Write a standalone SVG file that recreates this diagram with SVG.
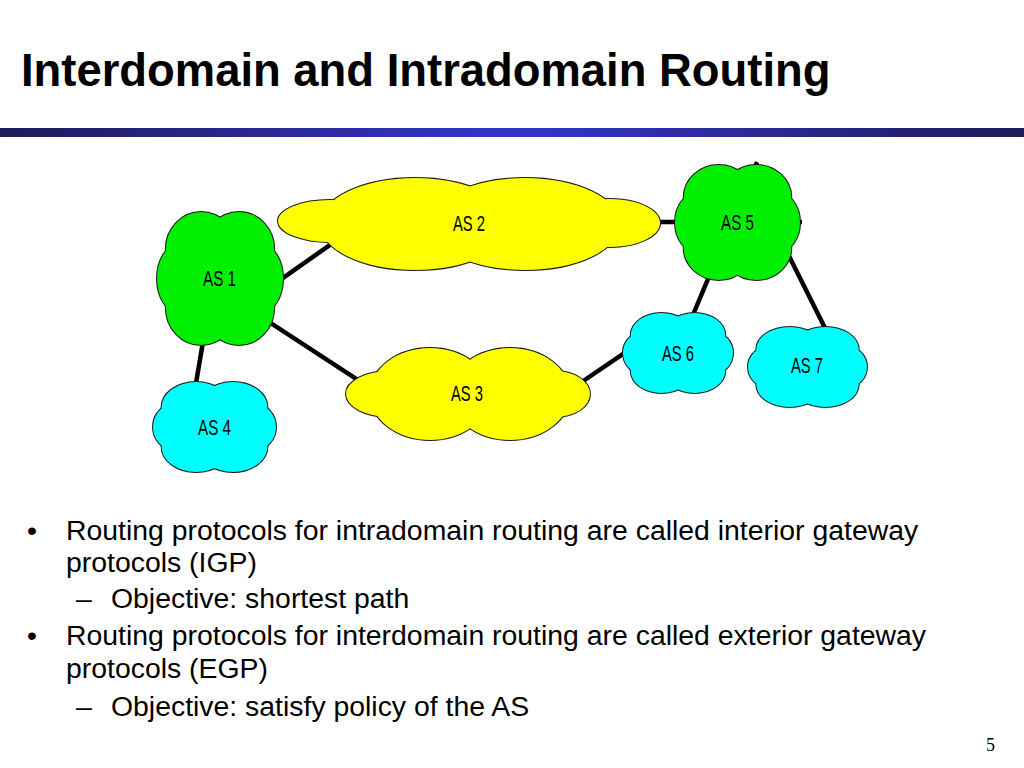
<svg xmlns="http://www.w3.org/2000/svg" xmlns:xlink="http://www.w3.org/1999/xlink" width="1024" height="768" viewBox="0 0 1024 768">
<style>
.title{font-family:"Liberation Sans",Arial,sans-serif;font-weight:bold;font-size:45.4px;fill:#000}
.body{font-family:"Liberation Sans",Arial,sans-serif;font-size:28.4px;fill:#000}
.lbl{font-family:"Liberation Sans",Arial,sans-serif;font-size:22px;fill:#000;text-anchor:middle}
.pg{font-family:"Liberation Serif","Times New Roman",serif;font-size:18px;fill:#000}
.link{stroke:#000;stroke-width:4.5;stroke-linecap:butt;fill:none}
.out{stroke:#1a1a1a;stroke-width:2}
.fill{stroke:none}
.g{fill:#00ee00}
.c{fill:#00ffff}
.y{fill:#ffff00}
</style>
<defs>
<linearGradient id="bar" x1="0" y1="0" x2="1" y2="0">
<stop offset="0" stop-color="#1c1c5a"/>
<stop offset="0.5" stop-color="#3434cc"/>
<stop offset="1" stop-color="#1c1c5a"/>
</linearGradient>
<g id="cloud">
<ellipse cx="-15" cy="-22" rx="28" ry="28" vector-effect="non-scaling-stroke"/>
<ellipse cx="15" cy="-22" rx="28" ry="28" vector-effect="non-scaling-stroke"/>
<ellipse cx="-15" cy="22" rx="28" ry="28" vector-effect="non-scaling-stroke"/>
<ellipse cx="15" cy="22" rx="28" ry="28" vector-effect="non-scaling-stroke"/>
<ellipse cx="-32" cy="0" rx="18" ry="26" vector-effect="non-scaling-stroke"/>
<ellipse cx="32" cy="0" rx="18" ry="26" vector-effect="non-scaling-stroke"/>
<ellipse cx="0" cy="0" rx="40" ry="35" vector-effect="non-scaling-stroke"/>
</g>
<g id="as2shape">
<ellipse cx="330" cy="221" rx="52" ry="21"/>
<ellipse cx="415" cy="224" rx="95" ry="46"/>
<ellipse cx="525" cy="224" rx="95" ry="46"/>
<ellipse cx="610" cy="223" rx="50" ry="24"/>
</g>
<g id="as3shape">
<ellipse cx="390" cy="394" rx="44" ry="23"/>
<ellipse cx="430" cy="394" rx="60" ry="46"/>
<ellipse cx="510" cy="394" rx="60" ry="46"/>
<ellipse cx="555" cy="394" rx="35" ry="23"/>
</g>
</defs>
<rect width="1024" height="768" fill="#fff"/>
<text class="title" x="21" y="86">Interdomain and Intradomain Routing</text>
<rect x="0" y="128" width="1024" height="9" fill="url(#bar)"/>
<g id="connectors">
<line class="link" x1="265" y1="290.7" x2="345" y2="234.3"/>
<line class="link" x1="250" y1="309.5" x2="370" y2="387.8"/>
<line class="link" x1="205" y1="330" x2="194" y2="395"/>
<line class="link" x1="640" y1="222" x2="802" y2="222"/>
<line class="link" x1="757" y1="162" x2="690" y2="322"/>
<line class="link" x1="775" y1="228" x2="830" y2="338"/>
<line class="link" x1="570" y1="390" x2="640" y2="342.4"/>
</g>
<g id="as1">
<use xlink:href="#cloud" class="g out" transform="translate(220,278.5) scale(1.26,1.33)"/>
<use xlink:href="#cloud" class="g fill" transform="translate(220,278.5) scale(1.26,1.33)"/>
<text class="lbl" x="219.5" y="286" textLength="33" lengthAdjust="spacingAndGlyphs">AS 1</text>
</g>
<g id="as2">
<use xlink:href="#as2shape" class="y out"/>
<use xlink:href="#as2shape" class="y fill"/>
<text class="lbl" x="469" y="231" textLength="32" lengthAdjust="spacingAndGlyphs">AS 2</text>
</g>
<g id="as3">
<use xlink:href="#as3shape" class="y out"/>
<use xlink:href="#as3shape" class="y fill"/>
<text class="lbl" x="467" y="401" textLength="32" lengthAdjust="spacingAndGlyphs">AS 3</text>
</g>
<g id="as4">
<use xlink:href="#cloud" class="c out" transform="translate(214.5,427) scale(1.23,0.9)"/>
<use xlink:href="#cloud" class="c fill" transform="translate(214.5,427) scale(1.23,0.9)"/>
<text class="lbl" x="214.5" y="435" textLength="33" lengthAdjust="spacingAndGlyphs">AS 4</text>
</g>
<g id="as5">
<use xlink:href="#cloud" class="g out" transform="translate(737.5,222.5) scale(1.25,1.15)"/>
<use xlink:href="#cloud" class="g fill" transform="translate(737.5,222.5) scale(1.25,1.15)"/>
<text class="lbl" x="737.5" y="230" textLength="33" lengthAdjust="spacingAndGlyphs">AS 5</text>
</g>
<g id="as6">
<use xlink:href="#cloud" class="c out" transform="translate(678,353) scale(1.1,0.8)"/>
<use xlink:href="#cloud" class="c fill" transform="translate(678,353) scale(1.1,0.8)"/>
<text class="lbl" x="678" y="361" textLength="32" lengthAdjust="spacingAndGlyphs">AS 6</text>
</g>
<g id="as7">
<use xlink:href="#cloud" class="c out" transform="translate(807.5,367) scale(1.19,0.8)"/>
<use xlink:href="#cloud" class="c fill" transform="translate(807.5,367) scale(1.19,0.8)"/>
<text class="lbl" x="807" y="373" textLength="32" lengthAdjust="spacingAndGlyphs">AS 7</text>
</g>
<g id="bullets">
<text class="body" x="27" y="540">•</text>
<text class="body" x="66" y="540">Routing protocols for intradomain routing are called interior gateway</text>
<text class="body" x="66" y="572">protocols (IGP)</text>
<text class="body" x="76" y="608">–</text>
<text class="body" x="111" y="608">Objective: shortest path</text>
<text class="body" x="27" y="645">•</text>
<text class="body" x="66" y="645">Routing protocols for interdomain routing are called exterior gateway</text>
<text class="body" x="66" y="678">protocols (EGP)</text>
<text class="body" x="76" y="716">–</text>
<text class="body" x="111" y="716">Objective: satisfy policy of the AS</text>
</g>
<text class="pg" x="986" y="751">5</text>
</svg>
